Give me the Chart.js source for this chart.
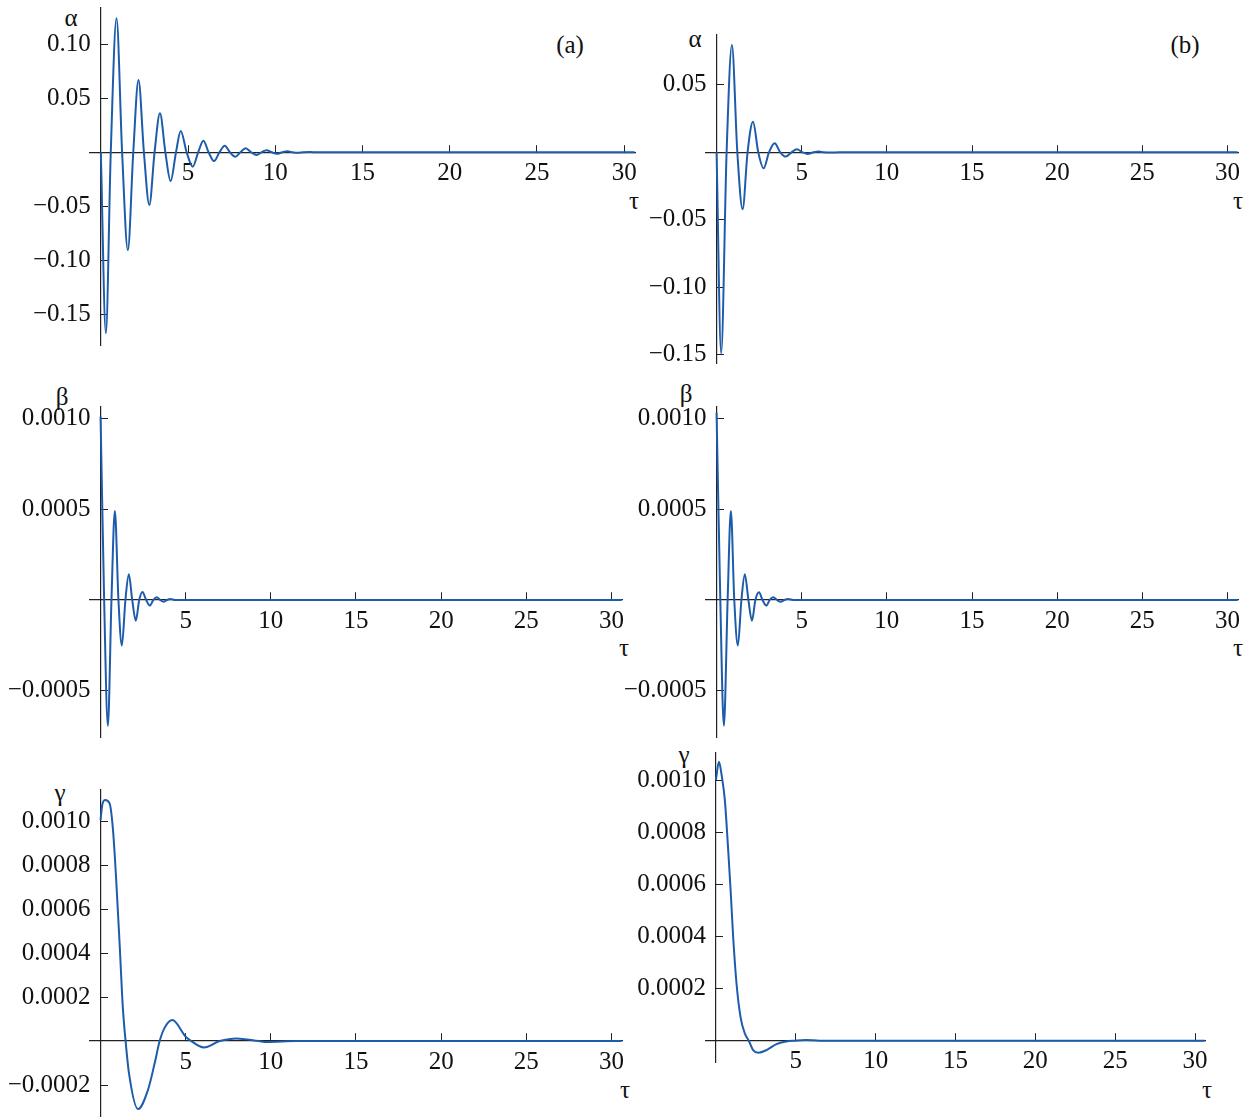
<!DOCTYPE html>
<html>
<head>
<meta charset="utf-8">
<script src="https://cdn.jsdelivr.net/npm/chart.js@4.4.1/dist/chart.umd.min.js"></script>
<style>
  body { margin: 0; background: #fff; }
  #page { position: relative; width: 1246px; height: 1117px; overflow: hidden; }
  #page canvas { position: absolute; left: 0; top: 0; }
  .lbl { position: absolute; font-family: 'Liberation Serif', 'Times New Roman', serif; font-size: 25px;
         line-height: 1; transform: translate(-50%, -50%); white-space: nowrap; color: #111; }
</style>
</head>
<body>
<div id="page">
  <div class="lbl" style="left:71px;top:17px">α</div>
  <div class="lbl" style="left:695px;top:38px">α</div>
  <div class="lbl" style="left:570px;top:44px">(a)</div>
  <div class="lbl" style="left:1185px;top:44px">(b)</div>
  <div class="lbl" style="left:634px;top:200px">τ</div>
  <div class="lbl" style="left:1238px;top:200px">τ</div>
  <div class="lbl" style="left:62px;top:396px">β</div>
  <div class="lbl" style="left:686px;top:393px">β</div>
  <div class="lbl" style="left:624px;top:647px">τ</div>
  <div class="lbl" style="left:1238px;top:647px">τ</div>
  <div class="lbl" style="left:60px;top:792px">γ</div>
  <div class="lbl" style="left:684px;top:754px">γ</div>
  <div class="lbl" style="left:625px;top:1089px">τ</div>
  <div class="lbl" style="left:1207px;top:1089px">τ</div>
</div>
<script>
// tau ticks shared by all panels
const xTicks = [5, 10, 15, 20, 25, 30];

// alpha, case (a)
const alphaATau = [0, 0.29, 0.57, 0.90, 1.22, 1.55, 1.86, 2.16, 2.47, 2.78, 3.08, 3.39, 3.70, 4.00, 4.31, 4.58,
  4.92, 5.27, 5.58, 5.88, 6.18, 6.49, 6.80, 7.10, 7.40, 7.71, 8.00, 8.30, 8.62, 8.93, 9.20, 9.50, 9.80, 10.1,
  10.4, 10.7, 11.0, 11.3, 11.6, 12.0, 12.4, 30.6];
const alphaAVal = [0, -0.1676, 0, 0.124, 0, -0.0905, 0, 0.067, 0, -0.0488, 0, 0.0361, 0, -0.0266, 0, 0.0197,
  0, -0.0133, 0, 0.0107, 0, -0.0081, 0, 0.0061, 0, -0.0041, 0, 0.0037, 0, -0.0025, 0, 0.0020, 0, -0.0014,
  0, 0.0009, 0, -0.0005, 0, 0.0002, 0, 0];
const alphaATicks = [0.10, 0.05, -0.05, -0.10, -0.15];
const alphaALabels = ['0.10', '0.05', '−0.05', '−0.10', '−0.15'];

// alpha, case (b)
const alphaBTau = [0, 0.27, 0.59, 0.90, 1.22, 1.53, 1.82, 2.14, 2.45, 2.76, 3.08, 3.41, 3.74, 4.06, 4.40, 4.72,
  5.05, 5.35, 5.70, 6.00, 6.30, 6.70, 7.20, 30.6];
const alphaBVal = [0, -0.149, 0, 0.0795, 0, -0.0422, 0, 0.0227, 0, -0.0119, 0, 0.0067, 0, -0.0032, 0, 0.0022,
  0, -0.0012, 0, 0.0005, 0, -0.0002, 0, 0];
const alphaBTicks = [0.05, -0.05, -0.10, -0.15];
const alphaBLabels = ['0.05', '−0.05', '−0.10', '−0.15'];

// beta, case (a)
const betaATau = [0, 0.21, 0.43, 0.64, 0.84, 1.05, 1.25, 1.46, 1.66, 1.86, 2.07, 2.27, 2.46, 2.68, 2.89, 3.10,
  3.30, 3.50, 3.70, 3.90, 4.10, 4.40, 30.6];
const betaAVal = [0.00101, 0, -0.000692, 0, 0.00049, 0, -0.000251, 0, 0.000141, 0, -0.000114, 0, 0.000044, 0,
  -0.000031, 0, 0.000015, 0, -0.00001, 0, 0.000006, 0, 0];
const betaTicks = [0.0010, 0.0005, -0.0005];
const betaLabels = ['0.0010', '0.0005', '−0.0005'];

// beta, case (b)
const betaBTau = [0, 0.22, 0.43, 0.65, 0.84, 1.04, 1.25, 1.46, 1.66, 1.87, 2.08, 2.28, 2.49, 2.70, 2.92, 3.12,
  3.33, 3.55, 3.76, 3.98, 4.20, 4.50, 30.6];
const betaBVal = [0.00103, 0, -0.000692, 0, 0.00049, 0, -0.000251, 0, 0.000141, 0, -0.000114, 0, 0.000042, 0,
  -0.000031, 0, 0.000015, 0, -0.00001, 0, 0.000005, 0, 0];

// gamma, case (a)
const gammaATau = [0, 0.10, 0.27, 0.53, 0.73, 0.92, 1.12, 1.31, 1.47, 1.67, 2.20, 2.78, 3.18, 3.47, 3.76, 4.22,
  5.00, 5.33, 6.06, 7.00, 7.98, 9.30, 9.75, 11.5, 30.6];
const gammaAVal = [0.001005, 0.001073, 0.001095, 0.00108, 0.00096, 0.00073, 0.00044, 0.00015, 0, -0.000147,
  -0.000309, -0.000223, -0.0001, 0, 0.00006, 0.0000955, 0.00002, 0, -0.0000288, 0, 0.0000121, 0, -0.000004, 0, 0];
const gammaATicks = [0.0010, 0.0008, 0.0006, 0.0004, 0.0002, -0.0002];
const gammaALabels = ['0.0010', '0.0008', '0.0006', '0.0004', '0.0002', '−0.0002'];

// gamma, case (b)
const gammaBTau = [0, 0.19, 0.375, 0.56, 0.77, 0.92, 1.08, 1.29, 1.54, 1.81, 2.06, 2.33, 2.65, 3.17, 3.79, 4.42,
  4.90, 5.60, 6.50, 30.6];
const gammaBVal = [0.001003, 0.001073, 0.001015, 0.000926, 0.000733, 0.00058, 0.0004, 0.00022, 0.000092,
  0.000028, 0, -0.000036, -0.000046, -0.000036, -0.000013, -0.000003, 0, 0.000003, 0, 0];
const gammaBTicks = [0.0010, 0.0008, 0.0006, 0.0004, 0.0002];
const gammaBLabels = ['0.0010', '0.0008', '0.0006', '0.0004', '0.0002'];

// box = plot area in page pixels [left, top, right, bottom]
const panels = [
  { tau: alphaATau, val: alphaAVal, ticks: alphaATicks, labels: alphaALabels, ymin: -0.1784, ymax: 0.1336, box: [90, 8, 635, 345] },
  { tau: alphaBTau, val: alphaBVal, ticks: alphaBTicks, labels: alphaBLabels, ymin: -0.1561, ymax: 0.0869, box: [706, 35, 1238, 363] },
  { tau: betaATau, val: betaAVal, ticks: betaTicks, labels: betaLabels, ymin: -0.000754, ymax: 0.001062, box: [90, 407, 622, 737] },
  { tau: betaBTau, val: betaBVal, ticks: betaTicks, labels: betaLabels, ymin: -0.000754, ymax: 0.001062, box: [706, 407, 1238, 737] },
  { tau: gammaATau, val: gammaAVal, ticks: gammaATicks, labels: gammaALabels, ymin: -0.000345, ymax: 0.001141, box: [90, 790, 622, 1117] },
  { tau: gammaBTau, val: gammaBVal, ticks: gammaBTicks, labels: gammaBLabels, ymin: -0.0000819, ymax: 0.001107, box: [706, 753, 1205, 1062] }
];

const W = 1246, H = 1117;
const page = document.getElementById('page');
const font = { family: "'Liberation Serif', 'Times New Roman', serif", size: 25 };

// y labels of an axis placed at x = 0 sit right on the axis line; move them left a bit
const shiftYLabels = {
  id: 'shiftYLabels',
  beforeDraw(chart) {
    const items = chart.scales.y.getLabelItems(chart.chartArea);
    if (items._shifted) return;
    items.forEach(it => { it.options.translation[0] -= 10; });
    items._shifted = true;
  }
};

panels.forEach(p => {
  const canvas = document.createElement('canvas');
  canvas.width = W;
  canvas.height = H;
  page.appendChild(canvas);

  new Chart(canvas.getContext('2d'), {
    type: 'line',
    data: {
      datasets: [{
        data: p.tau.map((t, i) => ({ x: t, y: p.val[i] })),
        borderColor: '#1d5cab',
        borderWidth: 2,
        pointRadius: 0,
        fill: false,
        cubicInterpolationMode: 'monotone'
      }]
    },
    options: {
      responsive: false,
      animation: false,
      events: [],
      layout: { padding: { left: p.box[0], top: p.box[1], right: W - p.box[2], bottom: H - p.box[3] } },
      plugins: { legend: { display: false }, tooltip: { enabled: false } },
      scales: {
        x: {
          type: 'linear', min: -0.62, max: 30.62, position: { y: 0 },
          afterFit: s => { s.height = 0; s.paddingLeft = 0; s.paddingRight = 0; },
          afterBuildTicks: s => { s.ticks = xTicks.map(v => ({ value: v })); },
          grid: { drawOnChartArea: false, drawTicks: true, tickLength: -8, color: '#222', lineWidth: 1 },
          border: { color: '#222', width: 1.2 },
          ticks: { autoSkip: false, maxRotation: 0, padding: 14, color: '#111', font: font, callback: v => String(v) }
        },
        y: {
          type: 'linear', min: p.ymin, max: p.ymax, position: { x: 0 },
          afterFit: s => { s.width = 0; s.paddingTop = 0; s.paddingBottom = 0; },
          afterBuildTicks: s => { s.ticks = p.ticks.map(v => ({ value: v })); },
          grid: { drawOnChartArea: false, drawTicks: true, tickLength: -8, color: '#222', lineWidth: 1 },
          border: { color: '#222', width: 1.2 },
          ticks: { autoSkip: false, padding: 10, color: '#111', font: font, callback: (v, i) => p.labels[i] }
        }
      }
    },
    plugins: [shiftYLabels]
  });
});
</script>
</body>
</html>
